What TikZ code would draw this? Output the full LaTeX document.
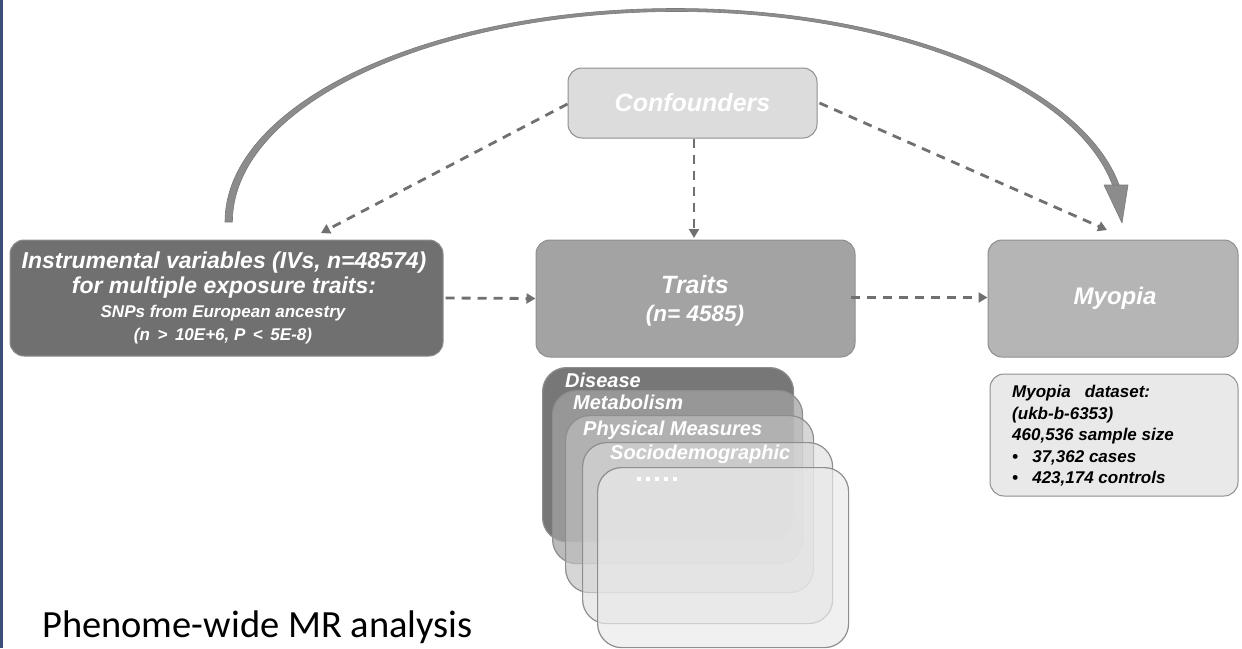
\documentclass[tikz,border=0pt]{standalone}
\usepackage{fontspec}
\setmainfont{Liberation Sans}
\newfontfamily\titlefont{Carlito}
\usetikzlibrary{arrows.meta,calc}
\definecolor{ivfill}{HTML}{707070}
\definecolor{trfill}{HTML}{A3A3A3}
\definecolor{myfill}{HTML}{B5B5B5}
\definecolor{cofill}{HTML}{DCDCDC}
\definecolor{dsfill}{HTML}{E9E9E9}
\definecolor{edge}{HTML}{8E8E8E}
\definecolor{dashc}{HTML}{707070}
\definecolor{arcc}{HTML}{8C8C8C}
\definecolor{arcd}{HTML}{7A7A7A}
\definecolor{navy}{HTML}{3B4F7A}
\tikzset{
  box/.style={draw=edge, line width=1pt, rounded corners=14pt, inner sep=0pt},
  card/.style={draw=edge, line width=1.2pt, rounded corners=24pt, inner sep=0pt, anchor=north west},
  wt/.style={text=white, font=\bfseries\itshape, inner sep=0pt},
  dasharrow/.style={draw=dashc, line width=2.8pt, dash pattern=on 9pt off 7pt, -{Triangle[length=9pt,width=10pt]}},
  bigarc/.style={fill=arcc, draw=arcd, line width=0.6pt, line join=round}
}
\begin{document}
\begin{tikzpicture}[x=1pt,y=-1pt]
\useasboundingbox (0,0) rectangle (1242,648);
\fill[navy] (0,0) rectangle (3,648);

% main boxes
\node[box, fill=cofill, minimum width=249pt, minimum height=70pt] (conf) at (692.5,103) {};
\node[wt, font=\fontsize{25}{28}\selectfont\bfseries\itshape] (conft) at (692.5,103) {Confounders};

\node[box, fill=ivfill, minimum width=433pt, minimum height=116pt] (iv) at (226.5,298) {};
\node[wt, font=\fontsize{23}{26}\selectfont\bfseries\itshape] (iv1) at (224,263) {Instrumental variables (IVs, n=48574)};
\node[wt, font=\fontsize{23}{26}\selectfont\bfseries\itshape] (iv2) at (224,288) {for multiple exposure traits:};
\node[wt, font=\fontsize{17}{20}\selectfont\bfseries\itshape] (iv3) at (223,313) {SNPs from European ancestry};
\node[wt, font=\fontsize{17}{20}\selectfont\bfseries\itshape] (iv4) at (223,336) {(n \,>\, 10E+6, P \,<\, 5E-8)};

\node[box, fill=trfill, minimum width=319pt, minimum height=117pt] (traits) at (695.5,298.5) {};
\node[wt, font=\fontsize{25}{28}\selectfont\bfseries\itshape] (tr1) at (695,285) {Traits};
\node[wt, font=\fontsize{22.5}{26}\selectfont\bfseries\itshape] (tr2) at (695,316) {(n= 4585)};

\node[box, fill=myfill, minimum width=250pt, minimum height=117pt] (myopia) at (1113,298.5) {};
\node[wt, font=\fontsize{24}{28}\selectfont\bfseries\itshape] (myt) at (1115,298) {Myopia};

% dataset box
\node[box, fill=dsfill, minimum width=248pt, minimum height=122pt] (ds) at (1114,435) {};
\node[anchor=north west, inner sep=0pt, align=left, font=\fontsize{17}{21.5}\selectfont\bfseries\itshape] (dst) at (1012,385)
 {Myopia\ \ \ dataset:\\(ukb-b-6353)\\460,536 sample size\\\textbullet\ \ \ 37,362 cases\\\textbullet\ \ \ 423,174 controls};

% stacked cards
\node[card, fill=ivfill!95!white, minimum width=251pt, minimum height=174pt] (c1) at (542,367) {};
\node[card, fill=trfill, fill opacity=0.75, minimum width=250pt, minimum height=173pt] (c2) at (552,390) {};
\node[card, fill=myfill!85!white, fill opacity=0.65, minimum width=248pt, minimum height=177pt] (c3) at (565,415) {};
\node[card, fill=cofill, fill opacity=0.6, minimum width=250pt, minimum height=181pt] (c4) at (582,442) {};
\node[card, fill=dsfill, fill opacity=0.7, minimum width=251pt, minimum height=180pt] (c5) at (597,467) {};
\node[wt, anchor=west, font=\fontsize{20}{22}\selectfont\bfseries\itshape] (l1) at (565,380) {Disease};
\node[wt, anchor=west, font=\fontsize{20}{22}\selectfont\bfseries\itshape] (l2) at (573,402) {Metabolism};
\node[wt, anchor=west, font=\fontsize{20}{22}\selectfont\bfseries\itshape] (l3) at (583,430) {Physical Measures};
\node[wt, anchor=west, font=\fontsize{20}{22}\selectfont\bfseries\itshape] (l4) at (610,454) {Sociodemographic};
\node[anchor=west, inner sep=0pt, text=white] (l5) at (637,479)
 {\rule{4pt}{3.5pt}\hspace{5pt}\rule{4pt}{3.5pt}\hspace{5pt}\rule{4pt}{3.5pt}\hspace{5pt}\rule{4pt}{3.5pt}\hspace{5pt}\rule{4pt}{3.5pt}};

% title
\node[anchor=base west, inner sep=0pt, font=\titlefont\fontsize{38.5}{42}\selectfont] (title) at (42,637) {Phenome-wide MR analysis};

% connectors
\coordinate (ivin) at (321,233);
\coordinate (trin) at (694,238);
\coordinate (myin) at (1107,230);
\coordinate (arcs) at (229,222);
\coordinate (arctip) at (1122,223);
\draw[dasharrow] (conf.west) ++(0,1) -- (ivin);
\draw[dasharrow] (conf.south) ++(1.5,0) -- (trin);
\draw[dasharrow] (conf.east) ++(2,0) -- (myin);
\draw[dasharrow] (iv.east) ++(2,0) -- (traits.west);
\draw[dasharrow] (traits.east) ++(-5,-1) -- ([yshift=1pt]myopia.west);
% tapered block arc from IVs to Myopia
\filldraw[bigarc] ($(arcs)+(-4,0)$) arc[start angle=180, end angle=9.5, x radius=450.5pt, y radius=213.5pt]
  -- ++(-6.5,0.5) arc[start angle=9.5, end angle=180, x radius=443.5pt, y radius=210.5pt] -- cycle;
\filldraw[bigarc] ($(arctip)+(-18,-38)$) -- ($(arctip)+(6,-38)$) -- (arctip) -- cycle;
\end{tikzpicture}
\end{document}
